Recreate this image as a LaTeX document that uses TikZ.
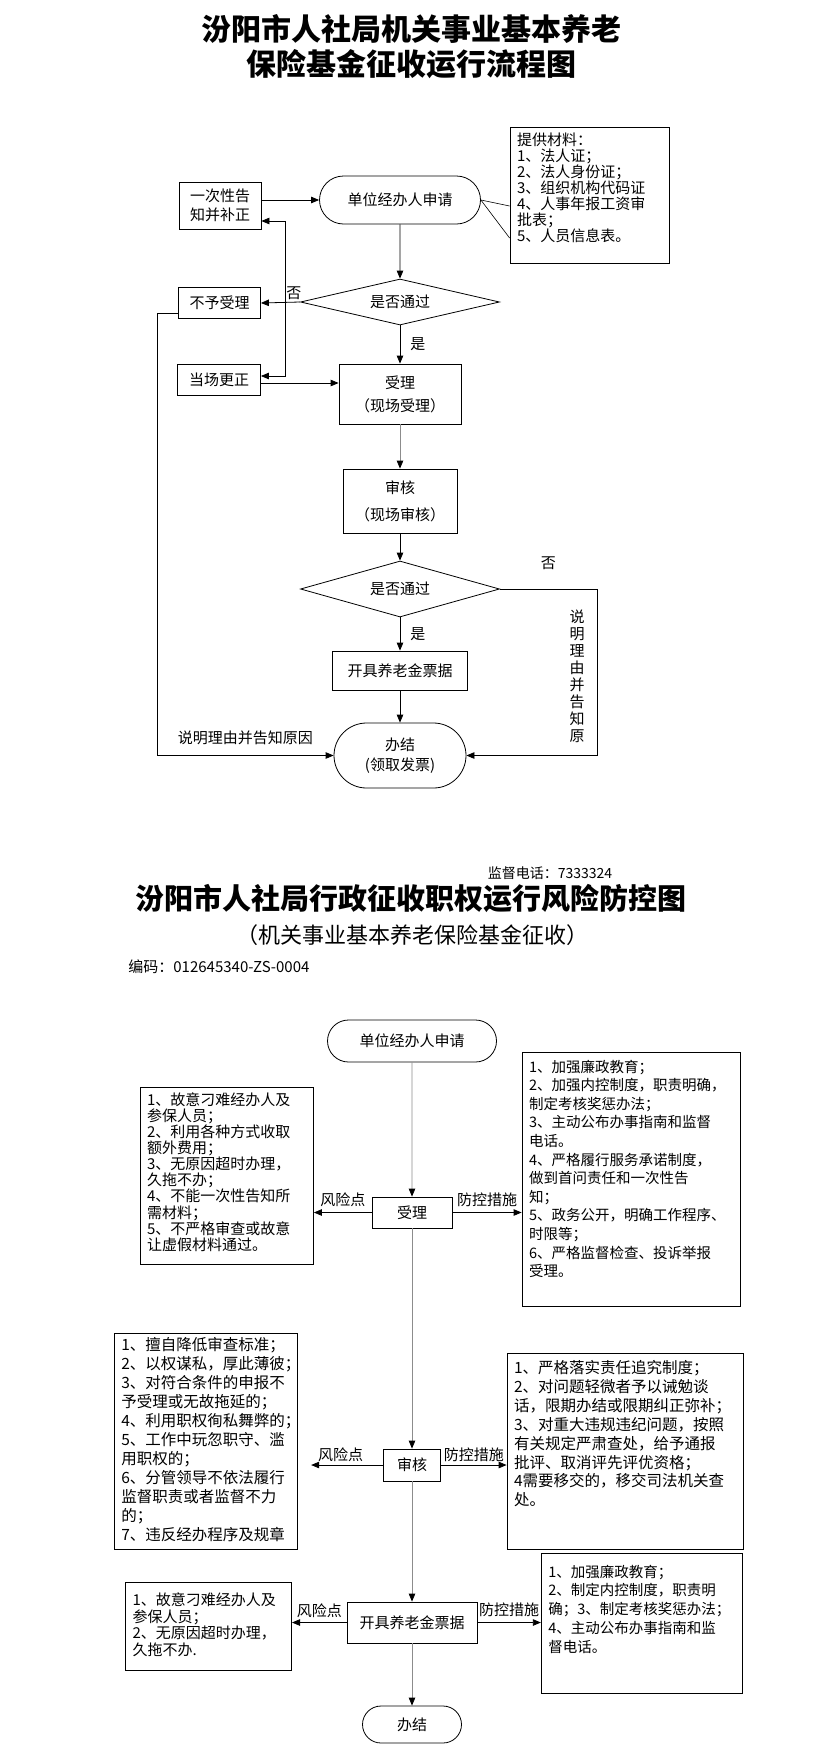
\documentclass[tikz,border=0pt]{standalone}
\usepackage{fontspec}
\setmainfont{Noto Sans CJK SC}
\usetikzlibrary{shapes.geometric, shapes.misc, arrows.meta, calc}

\begin{document}
\begin{tikzpicture}[
    x=1pt, y=-1pt, line width=0.8pt,
    box/.style={draw, rectangle, inner sep=0pt, align=center, font=\fontsize{15}{23}\selectfont},
    term/.style={draw, rounded rectangle, inner sep=0pt, align=center, font=\fontsize{15}{20}\selectfont},
    decision/.style={draw, diamond, aspect=4, inner sep=0pt, align=center, font=\fontsize{15}{18}\selectfont},
    note/.style={draw, rectangle, inner xsep=7pt, inner ysep=0pt, align=left},
    lbl/.style={inner sep=0pt, font=\fontsize{15}{17}\selectfont},
    arr/.style={-{Triangle[length=8pt, width=6.5pt]}},
    trunk/.style={draw=black!45, -{Triangle[length=8pt, width=6.5pt, color=black]}}
]
\useasboundingbox[fill=white] (0,0) rectangle (823,1759);

    % ================= FLOW CHART =================
    \node[lbl, align=center, font=\fontsize{30}{35}\selectfont\bfseries] (title1) at (411, 47) {汾阳市人社局机关事业基本养老\\保险基金征收运行流程图};

    \node[term, minimum width=161pt, minimum height=48pt] (ap1) at (400, 200) {单位经办人申请};
    \node[box, minimum width=82pt, minimum height=47pt, font=\fontsize{15}{19}\selectfont] (notify) at (220, 205.5) {一次性告\\知并补正};
    \node[note, text width=145pt, minimum height=136pt, text depth=112pt, font=\fontsize{15}{16.1}\selectfont] (mat) at (589.5, 195) {提供材料：\\1、法人证；\\2、法人身份证；\\3、组织机构代码证\\4、人事年报工资审\\批表；\\5、人员信息表。};

    \node[decision, minimum width=199pt, minimum height=46pt] (chk1) at (400, 302) {是否通过};
    \node[box, minimum width=82pt, minimum height=31pt] (reject) at (219.5, 303) {不予受理};
    \node[box, minimum width=83pt, minimum height=31pt] (fix) at (219, 379.5) {当场更正};
    \node[box, minimum width=122pt, minimum height=60pt] (accept1) at (400, 394) {受理\\（现场受理）};
    \node[box, minimum width=114pt, minimum height=64pt, font=\fontsize{15}{27}\selectfont] (audit1) at (400, 501) {审核\\（现场审核）};
    \node[decision, minimum width=199pt, minimum height=56pt] (chk2) at (400, 589) {是否通过};
    \node[box, minimum width=135pt, minimum height=39pt] (bill1) at (400, 670.5) {开具养老金票据};
    \node[term, minimum width=132pt, minimum height=65pt] (done1) at (400, 755.5) {办结\\(领取发票)};

    \node[lbl, align=center, font=\fontsize{15}{17}\selectfont] (reason1) at (577, 676.5) {说\\明\\理\\由\\并\\告\\知\\原};

    \coordinate (j1) at (285, 302);
    \coordinate (lturn) at (157, 313);
    \coordinate (rturn) at (597, 589);

    % materials callout
    \draw[line width=0.6pt] (ap1.east) -- ([yshift=-11pt]mat.west);
    \draw[line width=0.6pt] (ap1.east) -- ([yshift=-43pt]mat.west);

    \draw[arr] (notify.east |- ap1.west) -- (ap1.west);
    \draw[arr] (ap1) -- (chk1);
    \draw[arr] (chk1.west) -- (reject.east) node[pos=0.16, above=2pt, lbl] {否};
    \draw[arr] (j1) |- (notify.east |- 0,221);
    \draw[arr] (j1) |- (fix.east |- 0,376);
    \draw[arr] (fix.east |- 0,383) -- (accept1.west |- 0,383);
    \draw[arr] (chk1) -- (accept1) node[midway, right=10pt, lbl] {是};
    \draw[trunk] (accept1) -- (audit1);
    \draw[arr] (audit1) -- (chk2);
    \draw[arr] (chk2) -- (bill1) node[midway, right=10pt, lbl] {是};
    \draw[arr] (bill1) -- (done1);

    % rejected branches
    \draw[arr] (reject.west |- lturn) -- (lturn) |- (done1.west) node[pos=0.75, above=10pt, lbl] {说明理由并告知原因};
    \draw[arr] (chk2.east) -- (rturn) node[midway, above=19pt, lbl] {否} |- (done1.east);

    % ================= RISK CONTROL CHART =================
    \node[lbl, font=\fontsize{14}{16}\selectfont] (phone) at (550, 873) {监督电话：7333324};
    \node[lbl, font=\fontsize{29}{31}\selectfont\bfseries] (title2) at (411, 898) {汾阳市人社局行政征收职权运行风险防控图};
    \node[lbl, font=\fontsize{22}{24}\selectfont] (subtitle) at (412.5, 935) {（机关事业基本养老保险基金征收）};
    \node[lbl, anchor=west] (code) at (128, 967) {编码：012645340-ZS-0004};

    \node[term, minimum width=169pt, minimum height=42pt] (ap2) at (412, 1041) {单位经办人申请};
    \node[box, minimum width=80pt, minimum height=31pt] (accept2) at (412, 1212.5) {受理};
    \node[box, minimum width=57pt, minimum height=32pt] (audit2) at (412, 1465) {审核};
    \node[box, minimum width=130pt, minimum height=41pt] (bill2) at (412, 1622.5) {开具养老金票据};
    \node[term, minimum width=99pt, minimum height=37pt] (done2) at (412, 1724.5) {办结};

    % risk points
    \node[note, text width=159.5pt, minimum height=177pt, text depth=153pt, font=\fontsize{15}{16.1}\selectfont] (risk1) at (226.75, 1175.5) {1、故意刁难经办人及\\参保人员；\\2、利用各种方式收取\\额外费用；\\3、无原因超时办理，\\久拖不办；\\4、不能一次性告知所\\需材料；\\5、不严格审查或故意\\让虚假材料通过。};
    \node[note, text width=169.5pt, minimum height=216pt, text depth=194pt, font=\fontsize{15.5}{19}\selectfont] (risk2) at (206, 1441) {1、擅自降低审查标准；\\2、以权谋私，厚此薄彼；\\3、对符合条件的申报不\\予受理或无故拖延的；\\4、利用职权徇私舞弊的；\\5、工作中玩忽职守、滥\\用职权的；\\6、分管领导不依法履行\\监督职责或者监督不力\\的；\\7、违反经办程序及规章};
    \node[note, text width=152pt, minimum height=88pt, text depth=54pt, font=\fontsize{15}{16.7}\selectfont] (risk3) at (208.6, 1626) {1、故意刁难经办人及\\参保人员；\\2、无原因超时办理，\\久拖不办.};

    % control measures
    \node[note, text width=204pt, minimum height=254pt, text depth=226pt, font=\fontsize{14.5}{18.6}\selectfont] (ctrl1) at (631, 1179) {1、加强廉政教育；\\2、加强内控制度，职责明确，\\制定考核奖惩办法；\\3、主动公布办事指南和监督\\电话。\\4、严格履行服务承诺制度，\\做到首问责任和一次性告\\知；\\5、政务公开，明确工作程序、\\时限等；\\6、严格监督检查、投诉举报\\受理。};
    \node[note, text width=222pt, minimum height=196pt, text depth=168pt, font=\fontsize{15.5}{18.9}\selectfont] (ctrl2) at (625, 1451) {1、严格落实责任追究制度；\\2、对问题轻微者予以诫勉谈\\话，限期办结或限期纠正弥补；\\3、对重大违规违纪问题，按照\\有关规定严肃查处，给予通报\\批评、取消评先评优资格；\\4需要移交的，移交司法机关查\\处。};
    \node[note, text width=187.5pt, minimum height=140pt, text depth=104pt, font=\fontsize{14.5}{18.75}\selectfont] (ctrl3) at (642, 1623) {1、加强廉政教育；\\2、制定内控制度，职责明\\确；3、制定考核奖惩办法；\\4、主动公布办事指南和监\\督电话。};

    % main line
    \draw[trunk] (ap2) -- (accept2);
    \draw[trunk] (accept2) -- (audit2);
    \draw[trunk] (audit2) -- (bill2);
    \draw[trunk] (bill2) -- (done2);

    % risk / control arrows
    \draw[arr] (accept2.west) -- (risk1.east |- accept2.west) node[midway, above=5.5pt, lbl] {风险点};
    \draw[arr] (accept2.east) -- (ctrl1.west |- accept2.east) node[midway, above=5.5pt, lbl] {防控措施};
    \draw[arr, shorten >=13pt] (audit2.west) -- (risk2.east |- audit2.west) node[midway, above=3pt, lbl] {风险点};
    \draw[arr] (audit2.east) -- (ctrl2.west |- audit2.east) node[midway, above=3pt, lbl] {防控措施};
    \draw[arr] (bill2.west) -- (risk3.east |- bill2.west) node[midway, above=4pt, lbl] {风险点};
    \draw[arr] (bill2.east) -- (ctrl3.west |- bill2.east) node[midway, above=5pt, lbl] {防控措施};

\end{tikzpicture}
\end{document}
